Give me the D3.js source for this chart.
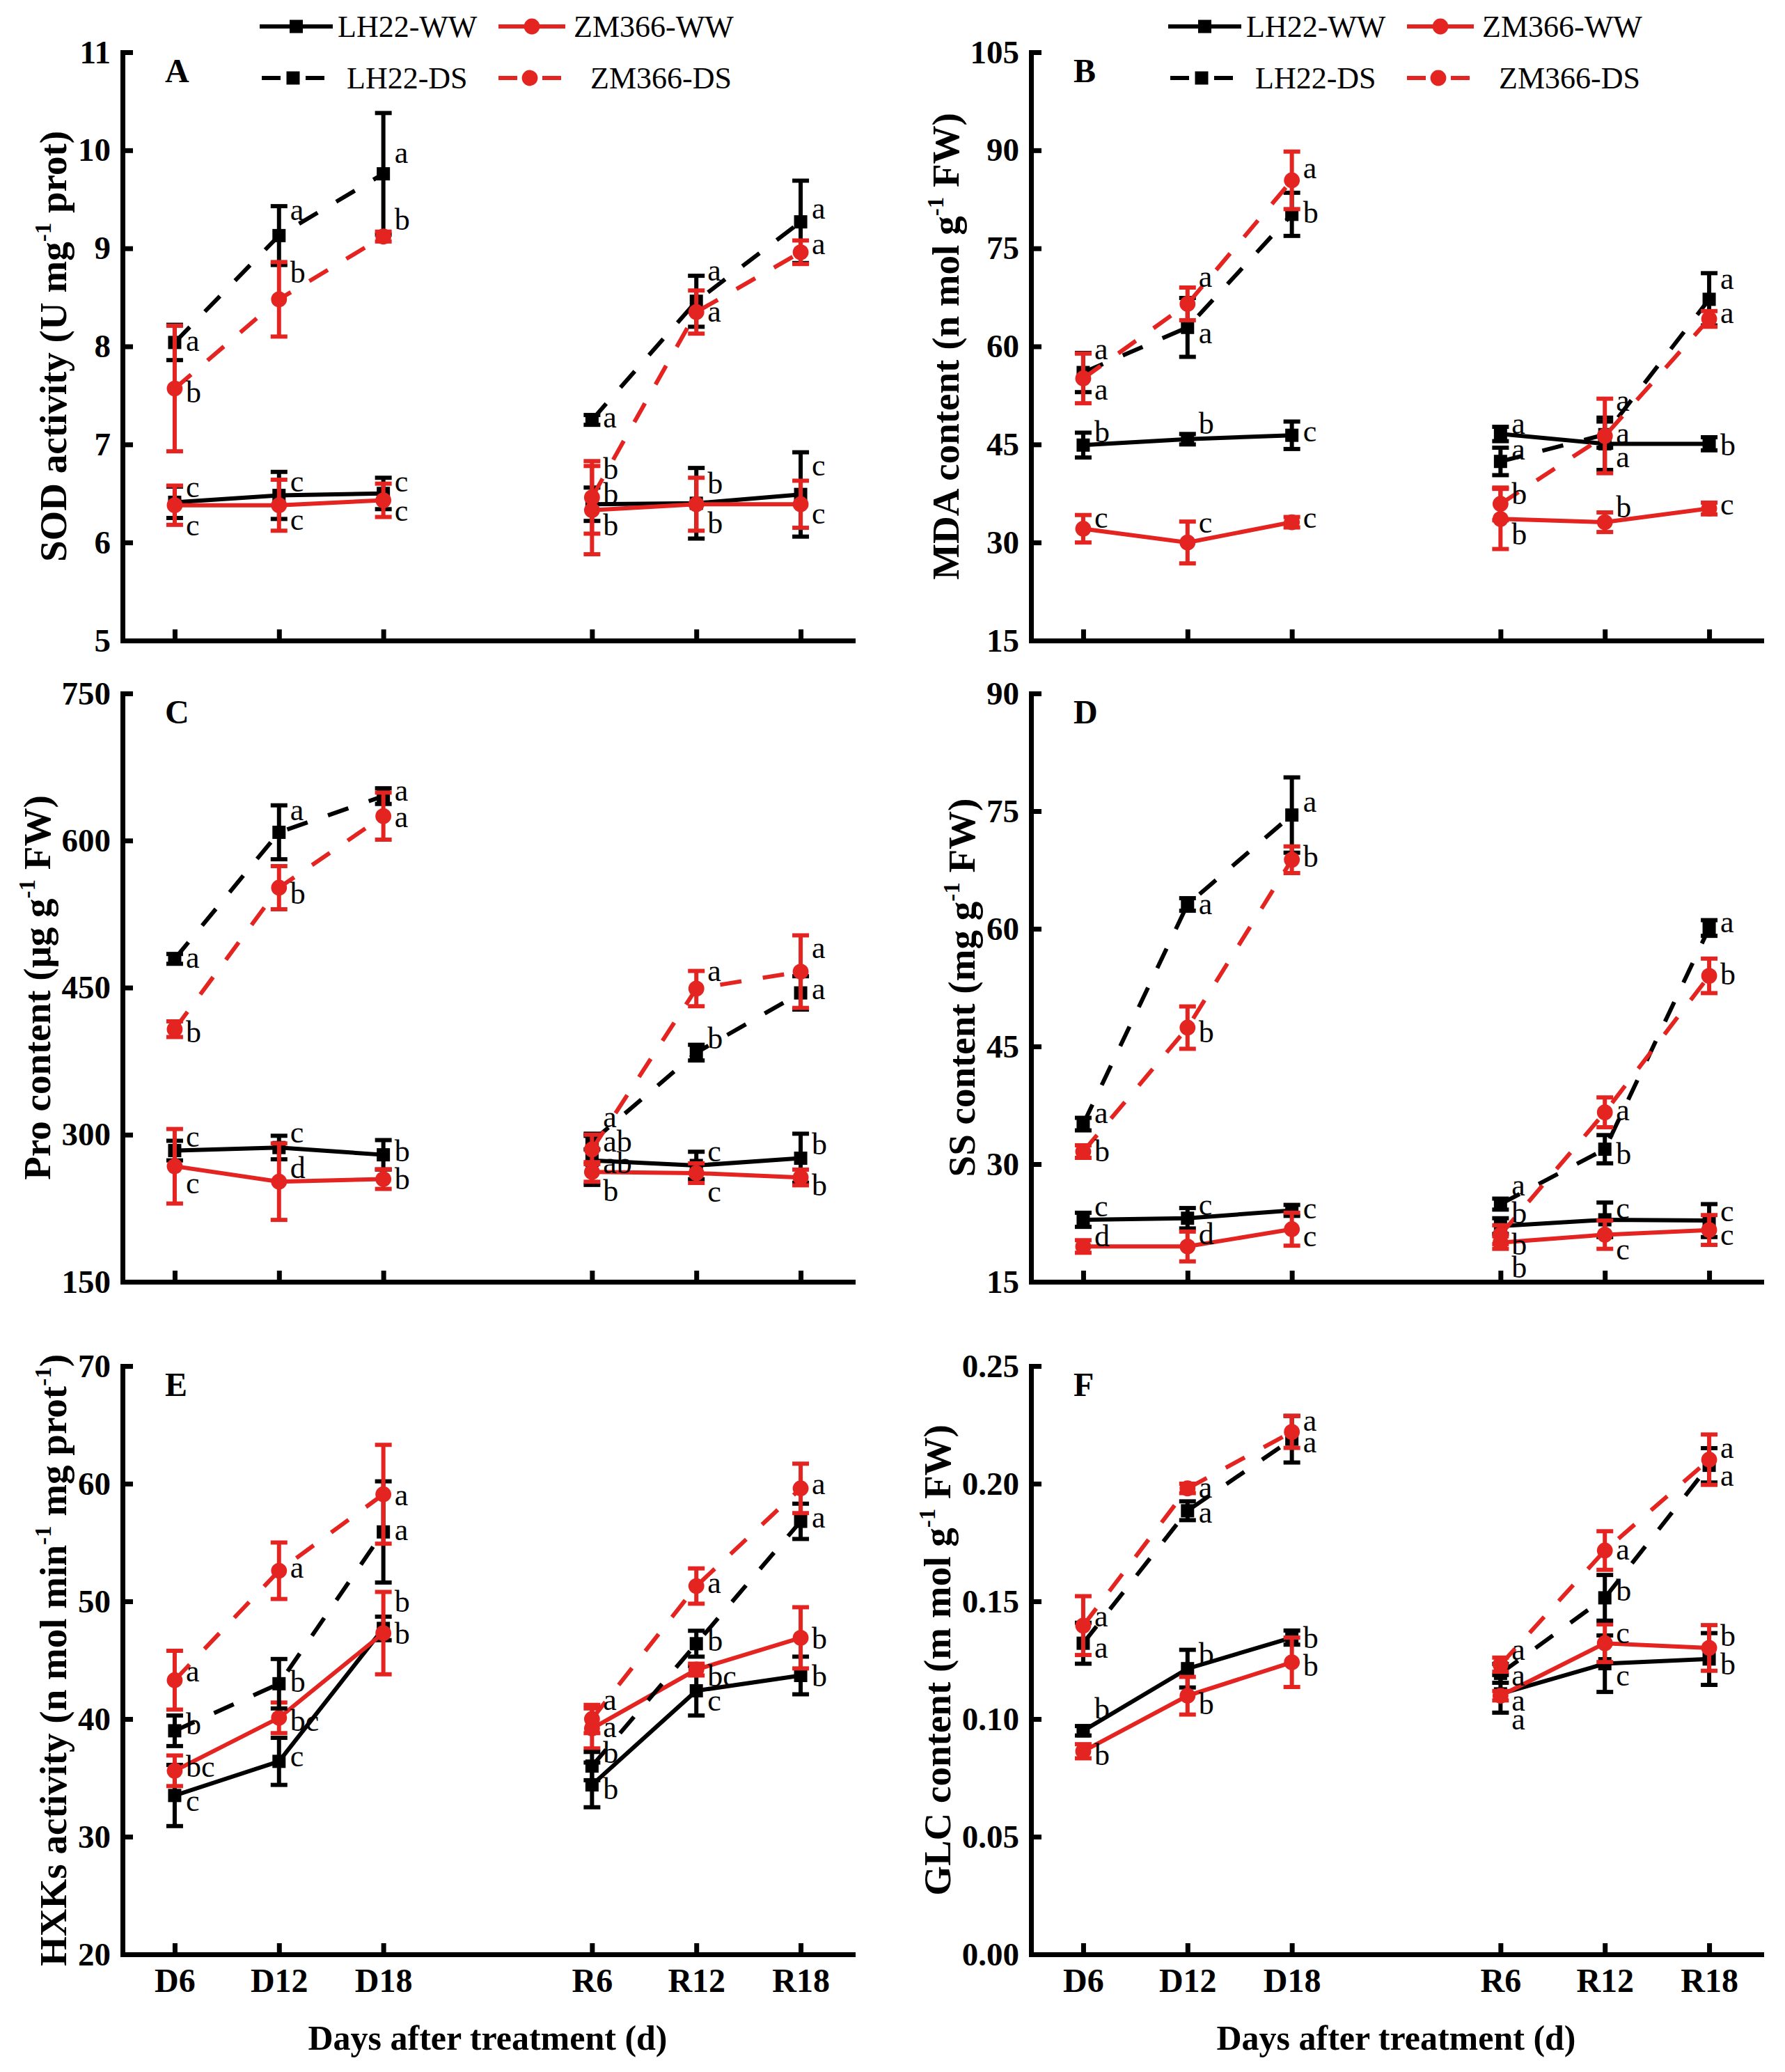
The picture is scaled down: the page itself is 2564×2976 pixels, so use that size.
<!DOCTYPE html>
<html>
<head>
<meta charset="utf-8">
<title>Drought / rewatering physiology panels</title>
<script src="https://d3js.org/d3.v7.min.js"></script>
<style>
  body { margin: 0; background: #fff; }
  svg, svg text, .axis { font-family: 'Liberation Serif', 'Times New Roman', serif; }
  .axis path, .axis line { stroke: #000; stroke-width: 7; }
  .axis path { stroke-linecap: square; }
  .axis text { font-weight: bold; font-size: 47px; fill: #000; }
  .xaxis text { font-size: 48px; }
  .ylabel { font-weight: bold; font-size: 55px; text-anchor: middle; }
  .xlabel { font-weight: bold; font-size: 50px; text-anchor: middle; }
  .panel-id { font-weight: bold; font-size: 48px; }
  .legend text { font-size: 44px; }
  .sig { font-size: 44px; }
</style>
</head>
<body>
<svg id="chart" width="2564" height="2976"></svg>
<script>
// categories and series
const days = ['D6', 'D12', 'D18', 'R6', 'R12', 'R18'];
const seriesNames = ['LH22-WW', 'ZM366-WW', 'LH22-DS', 'ZM366-DS'];

// y tick labels for each panel
const sodTicks = [5, 6, 7, 8, 9, 10, 11];
const mdaTicks = [15, 30, 45, 60, 75, 90, 105];
const proTicks = [150, 300, 450, 600, 750];
const ssTicks = [15, 30, 45, 60, 75, 90];
const hxkTicks = [20, 30, 40, 50, 60, 70];
const glcTicks = [0, 0.05, 0.10, 0.15, 0.20, 0.25];

// rows follow seriesNames: LH22-WW, ZM366-WW, LH22-DS, ZM366-DS
// A - SOD
const sodMean = [
  [6.41, 6.48, 6.50, 6.39, 6.40, 6.49],
  [6.38, 6.38, 6.43, 6.33, 6.39, 6.39],
  [8.04, 9.13, 9.76, 7.25, 8.46, 9.27],
  [7.57, 8.48, 9.12, 6.46, 8.35, 8.96]
];
const sodErr = [
  [0.16, 0.24, 0.16, 0.17, 0.36, 0.43],
  [0.20, 0.26, 0.17, 0.45, 0.27, 0.24],
  [0.18, 0.30, 0.62, 0.05, 0.26, 0.42],
  [0.64, 0.38, 0.05, 0.37, 0.22, 0.12]
];
const sodSig = [
  ['c', 'c', 'c', 'b', 'b', 'c'],
  ['c', 'c', 'c', 'b', 'b', 'c'],
  ['a', 'a', 'a', 'a', 'a', 'a'],
  ['b', 'b', 'b', 'b', 'a', 'a']
];
const sodSigAt = [
  [6.57, 6.63, 6.63, 6.50, 6.61, 6.79],
  [6.18, 6.24, 6.33, 6.18, 6.20, 6.30],
  [8.06, 9.40, 9.98, 7.28, 8.78, 9.41],
  [7.54, 8.76, 9.30, 6.76, 8.36, 9.05]
];

// B - MDA
const mdaMean = [
  [44.9, 45.8, 46.4, 46.6, 45.1, 45.1],
  [32.1, 30.0, 33.1, 33.6, 33.1, 35.2],
  [56.0, 62.9, 80.2, 42.4, 46.5, 67.2],
  [55.1, 66.5, 85.4, 35.9, 46.3, 64.2]
];
const mdaErr = [
  [1.9, 0.8, 2.1, 1.1, 4.0, 1.0],
  [2.1, 3.2, 0.8, 4.6, 1.5, 0.9],
  [3.0, 4.5, 3.3, 2.1, 2.0, 4.0],
  [3.8, 2.5, 4.4, 2.5, 5.7, 1.2]
];
const mdaSig = [
  ['b', 'b', 'c', 'a', 'a', 'b'],
  ['c', 'c', 'c', 'b', 'b', 'c'],
  ['a', 'a', 'b', 'a', 'a', 'a'],
  ['a', 'a', 'a', 'b', 'a', 'a']
];
const mdaSigAt = [
  [47.0, 48.3, 47.1, 48.3, 43.2, 45.0],
  [33.9, 33.1, 33.9, 31.3, 35.5, 35.9],
  [59.7, 62.1, 80.5, 44.3, 46.8, 70.4],
  [53.5, 70.8, 87.4, 37.5, 51.8, 65.2]
];

// C - Pro
const proMean = [
  [283.8, 286.9, 279.5, 273.8, 268.6, 276.0],
  [267.8, 252.1, 254.7, 262.0, 260.8, 256.4],
  [479.3, 608.4, 645.3, 293.0, 383.7, 444.6],
  [407.6, 551.9, 624.9, 285.0, 449.0, 466.3]
];
const proErr = [
  [10, 12, 15, 25, 14, 25],
  [38, 39, 10, 10, 10, 8],
  [5, 27.5, 8, 8, 8, 17],
  [8, 22, 24, 15, 18, 37]
];
const proSig = [
  ['c', 'c', 'b', 'ab', 'c', 'b'],
  ['c', 'd', 'b', 'b', 'c', 'b'],
  ['a', 'a', 'a', 'ab', 'b', 'a'],
  ['b', 'b', 'a', 'a', 'a', 'a']
];
const proSigAt = [
  [299, 303, 283.8, 272, 283.8, 291.2],
  [251, 266.4, 255.6, 243.4, 242.6, 249],
  [481.5, 631.4, 651.8, 293.8, 399, 449],
  [405.5, 546.7, 624.9, 318.6, 467.6, 491]
];

// D - SS
const ssMean = [
  [22.9, 23.1, 24.1, 22.1, 22.9, 22.8],
  [19.5, 19.5, 21.7, 20.0, 21.0, 21.6],
  [35.1, 63.1, 74.5, 24.9, 31.9, 60.1],
  [31.6, 47.4, 68.8, 21.0, 36.6, 54.0]
];
const ssErr = [
  [0.9, 1.3, 0.7, 1.0, 2.2, 2.1],
  [0.8, 1.9, 2.1, 0.8, 1.8, 1.9],
  [0.8, 0.8, 4.8, 0.7, 1.8, 1.0],
  [0.8, 2.7, 1.7, 1.2, 1.9, 2.2]
];
const ssSig = [
  ['c', 'c', 'c', 'b', 'c', 'c'],
  ['d', 'd', 'c', 'b', 'c', 'c'],
  ['a', 'a', 'a', 'a', 'b', 'a'],
  ['b', 'b', 'b', 'b', 'a', 'b']
];
const ssSigAt = [
  [24.7, 24.9, 24.4, 19.8, 24.4, 24.1],
  [20.9, 21.2, 20.9, 16.9, 19.2, 21.1],
  [36.6, 63.2, 76.3, 27.4, 31.4, 60.9],
  [31.7, 46.9, 69.3, 23.8, 37.0, 54.3]
];

// E - HXKs
const hxkMean = [
  [33.5, 36.4, 47.7, 34.4, 42.4, 43.7],
  [35.6, 40.1, 47.3, 39.2, 44.2, 46.9],
  [39.0, 43.0, 55.9, 36.0, 46.4, 56.8],
  [43.3, 52.6, 59.1, 40.0, 51.3, 59.6]
];
const hxkErr = [
  [2.6, 2.0, 1.0, 1.9, 2.1, 1.6],
  [1.3, 1.3, 3.5, 1.7, 0.5, 2.6],
  [1.3, 2.1, 4.3, 1.2, 1.1, 1.5],
  [2.5, 2.4, 4.2, 1.2, 1.5, 2.1]
];
const hxkSig = [
  ['c', 'c', 'b', 'b', 'c', 'b'],
  ['bc', 'bc', 'b', 'a', 'bc', 'b'],
  ['b', 'b', 'a', 'b', 'b', 'a'],
  ['a', 'a', 'a', 'a', 'a', 'a']
];
const hxkSigAt = [
  [33.1, 36.9, 47.3, 34.1, 41.6, 43.7],
  [36.0, 39.9, 50.0, 39.4, 43.7, 46.9],
  [39.6, 43.2, 56.1, 37.2, 46.7, 57.2],
  [44.1, 52.9, 59.1, 41.7, 51.6, 60.0]
];

// F - GLC
const glcMean = [
  [0.0950, 0.1214, 0.1346, 0.1107, 0.1235, 0.1255],
  [0.0863, 0.1099, 0.1241, 0.1099, 0.1322, 0.1302],
  [0.1322, 0.1885, 0.2189, 0.1194, 0.1515, 0.2078],
  [0.1397, 0.1980, 0.2220, 0.1231, 0.1716, 0.2102]
];
const glcErr = [
  [0.002, 0.008, 0.003, 0.008, 0.012, 0.011],
  [0.003, 0.008, 0.0105, 0.002, 0.008, 0.0097],
  [0.0087, 0.004, 0.0099, 0.004, 0.0097, 0.0073],
  [0.0125, 0.002, 0.0068, 0.003, 0.0082, 0.0107]
];
const glcSig = [
  ['b', 'b', 'b', 'a', 'c', 'b'],
  ['b', 'b', 'b', 'a', 'c', 'b'],
  ['a', 'a', 'a', 'a', 'b', 'a'],
  ['a', 'a', 'a', 'a', 'a', 'a']
];
const glcSigAt = [
  [0.1046, 0.1279, 0.1346, 0.1001, 0.1188, 0.1235],
  [0.0849, 0.1066, 0.1229, 0.1080, 0.1367, 0.1357],
  [0.1306, 0.1879, 0.2270, 0.1188, 0.1550, 0.2037],
  [0.1438, 0.1986, 0.2179, 0.1296, 0.1722, 0.2155]
];

// ---- layout ----
const W = 1049, H = 845;
const colL = 176, colR = 1481;
const rowT = [75, 996, 1962];
const black = '#000', red = '#e32420';

const panels = [
  { id: 'A', x0: colL, y0: rowT[0], mean: sodMean, err: sodErr, sig: sodSig, at: sodSigAt,
    ticks: sodTicks, fmt: d3.format('d'), legend: true, xlab: false,
    label: [['SOD activity (U mg'], ['-1', 1], [' prot)']] },
  { id: 'B', x0: colR, y0: rowT[0], mean: mdaMean, err: mdaErr, sig: mdaSig, at: mdaSigAt,
    ticks: mdaTicks, fmt: d3.format('d'), legend: true, xlab: false,
    label: [['MDA content (n mol g'], ['-1', 1], [' FW)']] },
  { id: 'C', x0: colL, y0: rowT[1], mean: proMean, err: proErr, sig: proSig, at: proSigAt,
    ticks: proTicks, fmt: d3.format('d'), legend: false, xlab: false,
    label: [['Pro content (\u03bcg g'], ['-1', 1], [' FW)']] },
  { id: 'D', x0: colR, y0: rowT[1], mean: ssMean, err: ssErr, sig: ssSig, at: ssSigAt,
    ticks: ssTicks, fmt: d3.format('d'), legend: false, xlab: false,
    label: [['SS content (mg g'], ['-1', 1], [' FW)']] },
  { id: 'E', x0: colL, y0: rowT[2], mean: hxkMean, err: hxkErr, sig: hxkSig, at: hxkSigAt,
    ticks: hxkTicks, fmt: d3.format('d'), legend: false, xlab: true,
    label: [['HXKs activity (n mol min'], ['-1', 1], [' mg prot'], ['-1', 1], [')']] },
  { id: 'F', x0: colR, y0: rowT[2], mean: glcMean, err: glcErr, sig: glcSig, at: glcSigAt,
    ticks: glcTicks, fmt: d3.format('.2f'), legend: false, xlab: true,
    label: [['GLC content (m mol g'], ['-1', 1], [' FW)']] }
];

const svg = d3.select('#chart');
const xDomain = [...days.slice(0, 3), ' ', ...days.slice(3)];

const legendSlots = [
  { line: [197, 302], text: 309 },
  { line: [540, 636], text: 648 },
  { line: [200, 290], text: 322 },
  { line: [540, 630], text: 672 }
];

function marker(sel, i, cx, cy, size) {
  if (i % 2 === 0) {
    sel.append('rect')
      .attr('x', cx - size / 2).attr('y', cy - size / 2)
      .attr('width', size).attr('height', size)
      .attr('fill', black);
  } else {
    sel.append('circle')
      .attr('cx', cx).attr('cy', cy).attr('r', size * 0.6)
      .attr('fill', red);
  }
}

function drawPanel(p) {
  const g = svg.append('g');
  const x = d3.scalePoint().domain(xDomain).range([p.x0, p.x0 + W]).padding(0.5);
  const y = d3.scaleLinear().domain([p.ticks[0], p.ticks[p.ticks.length - 1]]).range([p.y0 + H, p.y0]);

  const ya = g.append('g').attr('class', 'axis')
    .attr('transform', `translate(${p.x0},0)`)
    .call(d3.axisLeft(y).tickValues(p.ticks).tickFormat(p.fmt)
      .tickSize(-15).tickSizeOuter(0).tickPadding(17));
  ya.attr('font-family', null);

  const xa = g.append('g').attr('class', 'axis xaxis')
    .attr('transform', `translate(0,${p.y0 + H})`)
    .call(d3.axisBottom(x).tickValues(days).tickSize(-16).tickSizeOuter(0).tickPadding(20));
  xa.attr('font-family', null);
  if (!p.xlab) xa.selectAll('.tick text').remove();

  // y title, placed left of the widest tick label
  const tickW = d3.max(ya.selectAll('.tick text').nodes(), n => n.getComputedTextLength());
  const lab = g.append('text').attr('class', 'ylabel')
    .attr('transform', `translate(${p.x0 - 17 - tickW - 36},${p.y0 + H / 2}) rotate(-90)`)
    .attr('dy', '0.35em');
  p.label.forEach(([t, sup], k) => {
    const ts = lab.append('tspan').text(t);
    if (sup) ts.attr('font-size', 33).attr('dy', -22);
    else if (k > 0) ts.attr('dy', 22);
  });

  if (p.xlab) {
    g.append('text').attr('class', 'xlabel')
      .attr('x', p.x0 + W / 2).attr('y', p.y0 + H + 137)
      .text('Days after treatment (d)');
  }

  g.append('text').attr('class', 'panel-id')
    .attr('x', p.x0 + 61).attr('y', p.y0 + 43).text(p.id);

  // series
  p.mean.forEach((vals, i) => {
    const col = i % 2 ? red : black;
    const dashed = i >= 2;
    const pts = days.map((d, j) => ({ d, v: vals[j], e: p.err[i][j] }));
    const sg = g.append('g');
    const line = d3.line().x(q => x(q.d)).y(q => y(q.v));
    [pts.slice(0, 3), pts.slice(3)].forEach(seg => {
      sg.append('path').attr('d', line(seg))
        .attr('fill', 'none').attr('stroke', col).attr('stroke-width', 6)
        .attr('stroke-dasharray', dashed ? '31,31' : null);
    });
    pts.forEach(q => {
      const cx = x(q.d), top = y(q.v + q.e), bot = y(q.v - q.e);
      sg.append('line').attr('x1', cx).attr('x2', cx).attr('y1', top).attr('y2', bot)
        .attr('stroke', col).attr('stroke-width', 6);
      [top, bot].forEach(cy => {
        sg.append('line').attr('x1', cx - 12).attr('x2', cx + 12).attr('y1', cy).attr('y2', cy)
          .attr('stroke', col).attr('stroke-width', 6);
      });
      marker(sg, i, cx, y(q.v), 19);
    });
  });

  // significance letters
  p.sig.forEach((row, i) => {
    row.forEach((s, j) => {
      g.append('text').attr('class', 'sig')
        .attr('x', x(days[j]) + 16).attr('y', y(p.at[i][j]))
        .attr('dy', '0.35em').text(s);
    });
  });

  if (p.legend) {
    const lg = g.append('g').attr('class', 'legend');
    seriesNames.forEach((name, i) => {
      const s = legendSlots[i];
      const ly = i >= 2 ? p.y0 + 37 : p.y0 - 37;
      const col = i % 2 ? red : black;
      lg.append('line')
        .attr('x1', p.x0 + s.line[0]).attr('x2', p.x0 + s.line[1])
        .attr('y1', ly).attr('y2', ly)
        .attr('stroke', col).attr('stroke-width', 6)
        .attr('stroke-dasharray', i >= 2 ? '27,36' : null);
      marker(lg, i, p.x0 + (s.line[0] + s.line[1]) / 2, ly, 19);
      lg.append('text').attr('x', p.x0 + s.text).attr('y', ly)
        .attr('dy', '0.35em').text(name);
    });
  }
}

panels.forEach(drawPanel);
</script>
</body>
</html>
